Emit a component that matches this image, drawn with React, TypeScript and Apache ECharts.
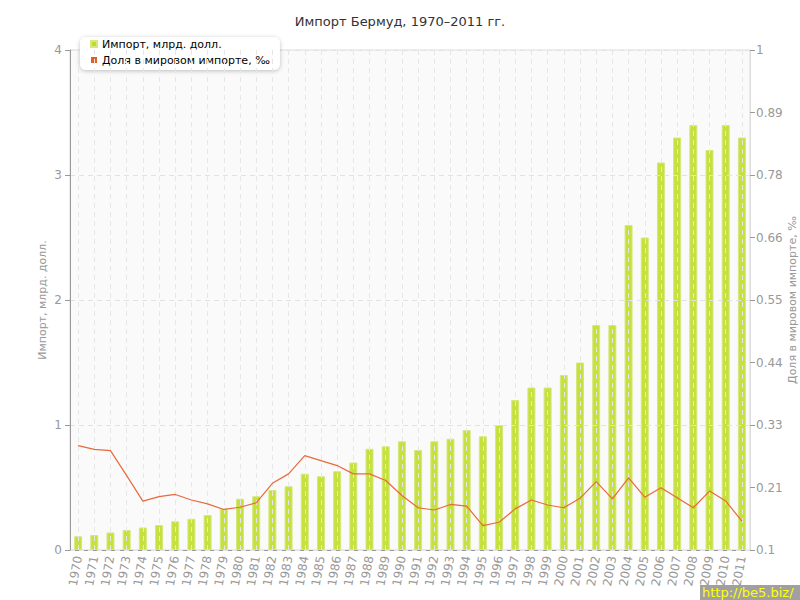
import React, { useEffect, useRef } from 'react';
import * as echarts from 'echarts';

const categories = [
  '1970','1971','1972','1973','1974','1975','1976','1977','1978','1979',
  '1980','1981','1982','1983','1984','1985','1986','1987','1988','1989',
  '1990','1991','1992','1993','1994','1995','1996','1997','1998','1999',
  '2000','2001','2002','2003','2004','2005','2006','2007','2008','2009',
  '2010','2011',
];

const importValues = [
  0.11, 0.12, 0.14, 0.16, 0.18, 0.20, 0.23, 0.25, 0.28, 0.33,
  0.41, 0.43, 0.48, 0.51, 0.61, 0.59, 0.63, 0.70, 0.81, 0.83,
  0.87, 0.80, 0.87, 0.89, 0.96, 0.91, 1.00, 1.20, 1.30, 1.30,
  1.40, 1.50, 1.80, 1.80, 2.60, 2.50, 3.10, 3.30, 3.40, 3.20,
  3.40, 3.30,
];

const shareValues = [
  0.288, 0.281, 0.279, 0.234, 0.188, 0.196, 0.200, 0.190, 0.183, 0.173,
  0.177, 0.185, 0.220, 0.237, 0.270, 0.261, 0.252, 0.237, 0.237, 0.225,
  0.198, 0.176, 0.172, 0.182, 0.179, 0.144, 0.150, 0.174, 0.190, 0.181,
  0.176, 0.193, 0.223, 0.192, 0.230, 0.195, 0.212, 0.194, 0.176, 0.206,
  0.188, 0.152,
];

const leftTickValues = [0, 1, 2, 3, 4];
const rightTickValues = [0.1, 0.2125, 0.325, 0.4375, 0.55, 0.6625, 0.775, 0.8875, 1];
const rightTickLabels = ['0.1', '0.21', '0.33', '0.44', '0.55', '0.66', '0.78', '0.89', '1'];

const FONT = 'DejaVu Sans';

export default function App() {
  const ref = useRef<HTMLDivElement>(null);

  useEffect(() => {
    const chart = echarts.init(ref.current!, null, { renderer: 'svg' });
    chart.setOption({
      animation: false,
      textStyle: { fontFamily: FONT },
      title: {
        text: 'Импорт Бермуд, 1970–2011 гг.',
        left: 'center',
        top: 10,
        textStyle: { fontFamily: FONT, fontSize: 13, fontWeight: 'normal', color: '#333' },
      },
      legend: {
        orient: 'vertical',
        left: 80,
        top: 37,
        padding: [0, 10, 3, 10],
        itemGap: 2,
        itemWidth: 6,
        itemHeight: 6,
        icon: 'rect',
        backgroundColor: '#fff',
        borderRadius: 6,
        shadowBlur: 4,
        shadowColor: 'rgba(0,0,0,0.25)',
        shadowOffsetY: 1,
        textStyle: { fontFamily: FONT, fontSize: 11, color: '#000', lineHeight: 14 },
        data: [
          { name: 'Импорт, млрд. долл.', icon: 'rect', itemStyle: { color: '#bfdc2e' } },
          { name: 'Доля в мировом импорте, ‰', icon: 'rect', itemStyle: { color: '#e0602a' } },
        ],
      },
      grid: {
        left: 70,
        right: 50,
        top: 50,
        bottom: 50,
        outerBoundsMode: 'none',
        containLabel: false,
        show: true,
        backgroundColor: '#fafafa',
        borderColor: '#dddddd',
        borderWidth: 1,
      },
      xAxis: {
        type: 'category',
        data: categories,
        boundaryGap: true,
        axisLine: { lineStyle: { color: '#999', width: 1 } },
        axisTick: { alignWithLabel: true, length: 5, lineStyle: { color: '#999' } },
        axisLabel: {
          rotate: 80,
          interval: 0,
          color: '#999',
          fontSize: 12,
          fontFamily: FONT,
          margin: 6,
        },
        splitLine: { show: false },
      },
      yAxis: [
        {
          type: 'value',
          min: 0,
          max: 4,
          interval: 0.5,
          z: 3,
          name: 'Импорт, млрд. долл.',
          nameLocation: 'middle',
          nameRotate: 90,
          nameGap: 22,
          nameMoveOverlap: false,
          nameTextStyle: { color: '#999', fontSize: 11, fontFamily: FONT },
          axisLine: { show: true, lineStyle: { color: '#999', width: 1 } },
          axisTick: { show: true, length: 5, customValues: leftTickValues, lineStyle: { color: '#999' } },
          axisLabel: {
            customValues: leftTickValues,
            color: '#999',
            fontSize: 12,
            fontFamily: FONT,
            margin: 8,
          },
          splitLine: { show: true, lineStyle: { color: '#e2e2e2', type: [5, 4], width: 1 } },
        },
        {
          type: 'value',
          min: 0.1,
          max: 1,
          position: 'right',
          name: 'Доля в мировом импорте, ‰',
          nameLocation: 'middle',
          nameRotate: 90,
          nameGap: 37,
          nameMoveOverlap: false,
          nameTextStyle: { color: '#999', fontSize: 11, fontFamily: FONT },
          axisLine: { show: true, lineStyle: { color: '#dddddd', width: 1 } },
          axisTick: { show: true, length: 5, customValues: rightTickValues, lineStyle: { color: '#999' } },
          axisLabel: {
            customValues: rightTickValues,
            color: '#999',
            fontSize: 12,
            fontFamily: FONT,
            margin: 6,
            formatter: (v: number) => {
              const i = rightTickValues.findIndex((t) => Math.abs(t - v) < 1e-6);
              return i >= 0 ? rightTickLabels[i] : '';
            },
          },
          splitLine: { show: false },
        },
      ],
      series: [
        {
          name: 'Импорт, млрд. долл.',
          type: 'bar',
          data: importValues,
          barWidth: 8,
          z: 2,
          itemStyle: { color: '#c6e03e', borderColor: '#d3e97c', borderWidth: 1 },
          markLine: {
            silent: true,
            symbol: 'none',
            label: { show: false },
            z: 4,
            lineStyle: { color: '#e6e6e6', type: [5, 4], width: 1 },
            data: categories.map((c) => ({ xAxis: c })),
          },
        },
        {
          name: 'Доля в мировом импорте, ‰',
          type: 'line',
          yAxisIndex: 1,
          data: shareValues,
          showSymbol: false,
          symbol: 'none',
          legendIcon: 'rect',
          z: 10,
          lineStyle: { color: '#e8693c', width: 1.2 },
          itemStyle: { color: '#e0602a' },
        },
      ],
      graphic: [
        {
          type: 'rect',
          z: 100,
          shape: { x: 700, y: 585, width: 100, height: 15 },
          style: { fill: '#a0a0a0' },
        },
        {
          type: 'text',
          z: 101,
          x: 702,
          y: 586,
          style: { text: 'http://be5.biz/', fill: '#ffff00', font: '13px "DejaVu Sans"' },
        },
      ],
    });
    return () => chart.dispose();
  }, []);

  return <div ref={ref} style={{ position: 'absolute', left: 0, top: 0, width: 800, height: 600 }} />;
}
